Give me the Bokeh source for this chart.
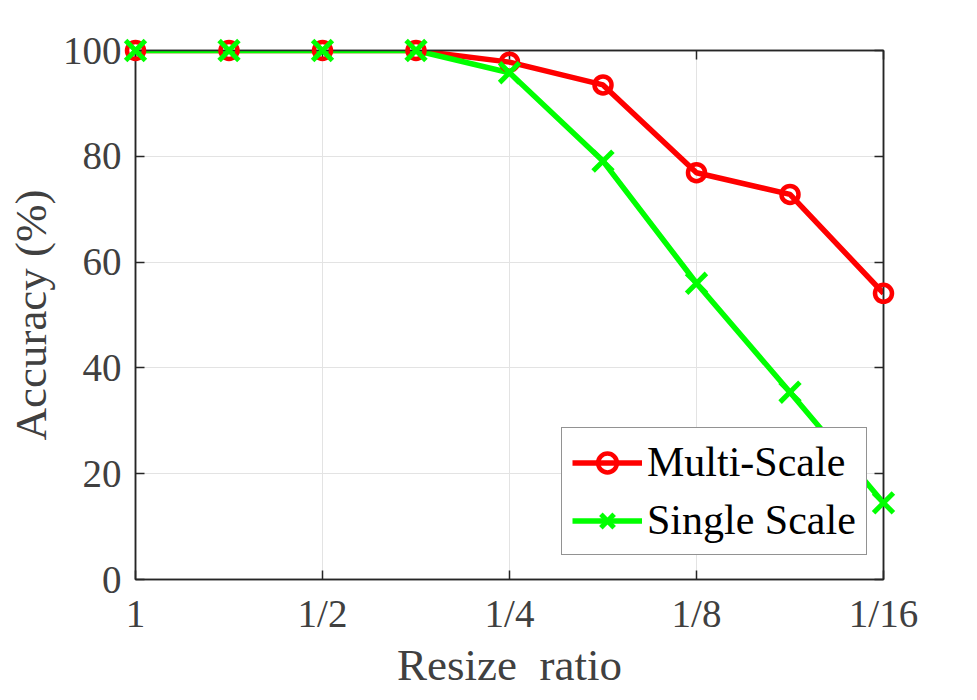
from bokeh.plotting import figure
from bokeh.models import FixedTicker, LinearAxis, Legend, LegendItem, Range1d
from bokeh.embed import file_html
from bokeh.resources import INLINE

x_pos = [1, 2, 3, 4, 5, 6, 7, 8, 9]
multi_scale = [100, 100, 100, 100, 97.8, 93.5, 76.9, 72.8, 54.1]
single_scale = [100, 100, 100, 100, 95.8, 79.1, 56.0, 35.4, 14.5]
x_ticks = [1, 3, 5, 7, 9]
x_tick_labels = ["1", "1/2", "1/4", "1/8", "1/16"]
y_ticks = [0, 20, 40, 60, 80, 100]

FONT = "Liberation Serif"
GRAY = "#404040"
DARK = "#262626"

p = figure(width=960, height=692, output_backend="svg", toolbar_location=None,
           x_range=Range1d(1, 9), y_range=Range1d(0, 100),
           min_border_left=135, min_border_right=77, min_border_top=50, min_border_bottom=112)
p.background_fill_color = "white"
p.border_fill_color = "white"
p.outline_line_color = DARK
p.outline_line_width = 1.5

for ax in (p.xaxis[0], p.yaxis[0]):
    ax.major_tick_in = 9
    ax.major_tick_out = 0
    ax.minor_tick_in = 0
    ax.minor_tick_out = 0
    ax.axis_line_color = DARK
    ax.axis_line_width = 1.5
    ax.major_tick_line_color = DARK
    ax.major_tick_line_width = 1.5
    ax.major_label_text_font = FONT
    ax.major_label_text_font_size = "39px"
    ax.major_label_text_color = GRAY
    ax.axis_label_text_font = FONT
    ax.axis_label_text_font_size = "45px"
    ax.axis_label_text_font_style = "normal"
    ax.axis_label_text_color = GRAY

p.xaxis.ticker = FixedTicker(ticks=x_ticks)
p.xaxis.major_label_overrides = {t: l for t, l in zip(x_ticks, x_tick_labels)}
p.yaxis.ticker = FixedTicker(ticks=y_ticks)
p.xaxis.axis_label = "Resize\u00a0\u00a0ratio"
p.yaxis.axis_label = "Accuracy (%)"
p.xaxis.major_label_standoff = 12
p.yaxis.major_label_standoff = 14
p.xaxis.axis_label_standoff = 2
p.yaxis.axis_label_standoff = 4

# ticks on top and right (no labels)
top = LinearAxis(ticker=FixedTicker(ticks=x_ticks),
                 major_label_overrides={t: "" for t in x_ticks},
                 major_tick_in=9, major_tick_out=0, minor_tick_in=0, minor_tick_out=0,
                 axis_line_color=DARK, axis_line_width=1.5,
                 major_tick_line_color=DARK, major_tick_line_width=1.5)
right = LinearAxis(ticker=FixedTicker(ticks=y_ticks),
                   major_label_overrides={t: "" for t in y_ticks},
                   major_tick_in=9, major_tick_out=0, minor_tick_in=0, minor_tick_out=0,
                   axis_line_color=DARK, axis_line_width=1.5,
                   major_tick_line_color=DARK, major_tick_line_width=1.5)
p.add_layout(top, "above")
p.add_layout(right, "right")

p.xgrid.ticker = FixedTicker(ticks=x_ticks)
p.ygrid.ticker = FixedTicker(ticks=y_ticks)
p.grid.grid_line_color = "#e3e3e3"
p.grid.grid_line_width = 1

RED = "#ff0000"
GREEN = "#00ff00"

l1 = p.line(x_pos, multi_scale, line_color=RED, line_width=5.5)
m1 = p.scatter(x_pos, multi_scale, marker="circle", size=17, line_color=RED,
               line_width=4.5, fill_color=None, level="overlay")
l2 = p.line(x_pos, single_scale, line_color=GREEN, line_width=5.5)
m2 = p.scatter(x_pos, single_scale, marker="x", size=28, line_color=GREEN,
               line_width=5, level="overlay")

legend = Legend(items=[LegendItem(label="Multi-Scale", renderers=[l1, m1]),
                       LegendItem(label="Single Scale", renderers=[l2, m2])],
                location=(426, 24))
legend.label_text_font = FONT
legend.label_text_font_size = "42px"
legend.label_text_color = "#000000"
legend.label_standoff = 5
legend.glyph_width = 70
legend.glyph_height = 47
legend.label_height = 47
legend.spacing = 10
legend.padding = 10
legend.margin = 0
legend.border_line_color = DARK
legend.border_line_width = 1.5
legend.background_fill_alpha = 1.0
p.add_layout(legend, "center")

open("out.html", "w").write(file_html(p, INLINE))
